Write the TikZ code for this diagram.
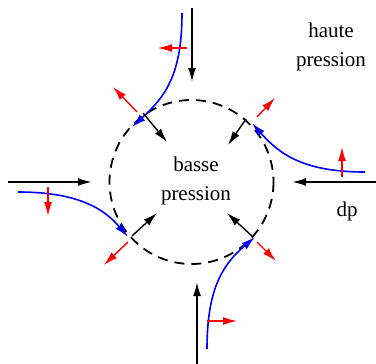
\documentclass[tikz,border=0pt]{standalone}
\usepackage{fontspec}
\setmainfont{Liberation Serif}
\usetikzlibrary{arrows.meta}
\definecolor{flowblue}{HTML}{0000FF}
\definecolor{pullred}{HTML}{FF0000}

\begin{document}
\begin{tikzpicture}[x=0.5pt,y=-0.5pt,
      headed/.style={-{Latex[length=7pt,width=4pt]}},
      wind/.style={headed,line width=0.9pt},
      inward/.style={headed,line width=0.7pt},
      flow/.style={headed,flowblue,line width=0.8pt},
      pull/.style={headed,pullred,line width=0.7pt},
      words/.style={font=\fontsize{10.5}{14.5}\selectfont,align=center,inner sep=0pt}]
    % picture in pixel units, y pointing down
    \useasboundingbox (0,0) rectangle (376,364);

    % low pressure zone
    \coordinate (centre) at (191.5,182);
    \draw[line width=0.9pt,dash pattern=on 5pt off 3.5pt] (centre) circle (82);

    % incoming wind, one from each side
    \draw[wind] (192,8) -- (192,82);
    \draw[wind] (197,364) -- (197,282);
    \draw[wind] (8,182) -- (92,182);
    \draw[wind] (376,182) -- (292,182);

    % deflected streamlines, ending on the rim
    \draw[flow] (182,13) .. controls (182,75) and (165,97) .. (132,127);
    \draw[flow] (365,172) .. controls (305,172) and (280,155) .. (252,123);
    \draw[flow] (18,192) .. controls (80,192) and (105,210) .. (128,237);
    \draw[flow] (207,349) .. controls (207,290) and (222,265) .. (255,237);

    % push towards the centre at the rim
    \foreach \xa/\ya/\xb/\yb in {143/113/167/142, 246/119/228/145, 132/236/157/213, 253/237/227/213}
      \draw[inward] (\xa,\ya) -- (\xb,\yb);

    % outward pull at the rim
    \foreach \xa/\ya/\xb/\yb in {137/112/113/87, 257/117/275/98, 128/242/104/265, 257/242/276/261}
      \draw[pull] (\xa,\ya) -- (\xb,\yb);

    % pull across the streamlines
    \foreach \xa/\ya/\xb/\yb in {187/48/158/48, 342/177/342/147, 48/187/48/216, 207/321/237/321}
      \draw[pull] (\xa,\ya) -- (\xb,\yb);

    % labels
    \node[words] (basse) at (196,181) {basse\\pression};
    \node[words] (haute) at (331,47) {haute\\pression};
    \node[words,anchor=base] (dp) at (347,217) {dp};
  \end{tikzpicture}
\end{document}
